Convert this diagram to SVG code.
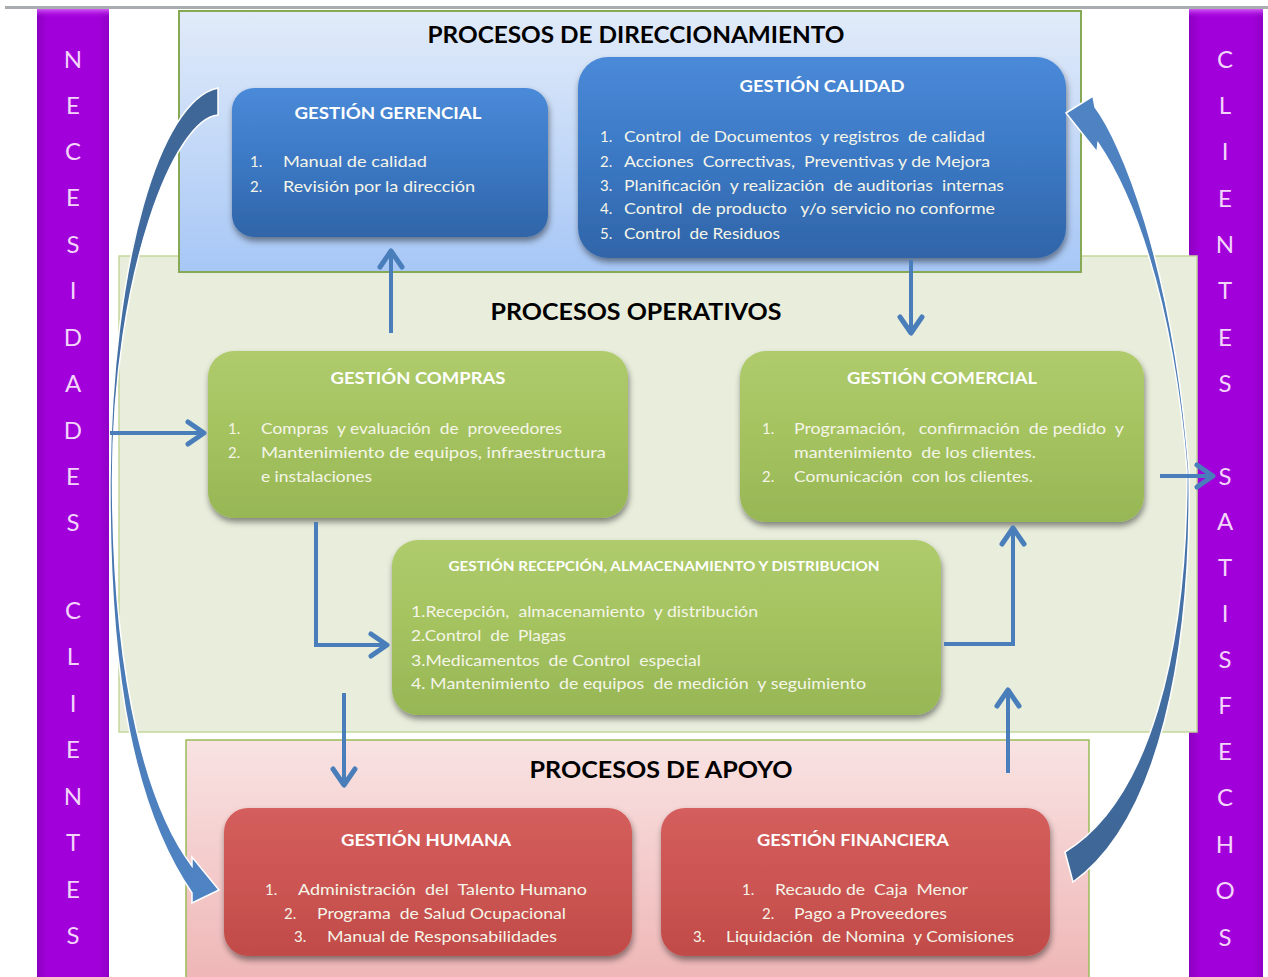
<svg xmlns="http://www.w3.org/2000/svg" width="1268" height="977" viewBox="0 0 1268 977">
<defs>
  <linearGradient id="gDir" x1="0" y1="0" x2="0" y2="1"><stop offset="0" stop-color="#e1ebf9"/><stop offset="1" stop-color="#a7c7f6"/></linearGradient>
  <linearGradient id="gApo" x1="0" y1="0" x2="0" y2="1"><stop offset="0" stop-color="#f9e3e3"/><stop offset="1" stop-color="#efb6b6"/></linearGradient>
  <linearGradient id="gBlue" x1="0" y1="0" x2="0" y2="1"><stop offset="0" stop-color="#4a8ad8"/><stop offset="0.5" stop-color="#3b78c4"/><stop offset="1" stop-color="#3065a8"/></linearGradient>
  <linearGradient id="gGreen" x1="0" y1="0" x2="0" y2="1"><stop offset="0" stop-color="#afcb6c"/><stop offset="0.5" stop-color="#a4c35f"/><stop offset="1" stop-color="#97b655"/></linearGradient>
  <linearGradient id="gRed" x1="0" y1="0" x2="0" y2="1"><stop offset="0" stop-color="#d45e5c"/><stop offset="0.5" stop-color="#cc5553"/><stop offset="1" stop-color="#c04b49"/></linearGradient>
  <linearGradient id="gPurp" x1="0" y1="0" x2="1" y2="0"><stop offset="0" stop-color="#8c00c0"/><stop offset="0.15" stop-color="#a200da"/><stop offset="0.85" stop-color="#a200da"/><stop offset="1" stop-color="#9000c6"/></linearGradient>
  <linearGradient id="gPurpTop" x1="0" y1="0" x2="0" y2="1"><stop offset="0" stop-color="#d45cf6"/><stop offset="1" stop-color="#a200da" stop-opacity="0"/></linearGradient>
  <linearGradient id="gArrR" x1="0" y1="0" x2="0" y2="1"><stop offset="0" stop-color="#4f84c4"/><stop offset="1" stop-color="#3e6696"/></linearGradient>
  <linearGradient id="gArrL" x1="0" y1="0" x2="0" y2="1"><stop offset="0" stop-color="#3e6696"/><stop offset="1" stop-color="#4f84c4"/></linearGradient>
  <filter id="sh" x="-10%" y="-10%" width="120%" height="130%"><feDropShadow dx="1" dy="4" stdDeviation="3" flood-color="#000" flood-opacity="0.45"/></filter>
  <marker id="chev" viewBox="-22 -14 26 28" markerWidth="26" markerHeight="28" refX="0" refY="0" orient="auto" markerUnits="userSpaceOnUse">
    <path d="M-16,-11 L0,0 L-16,11" fill="none" stroke="#4a7ebb" stroke-width="5" stroke-linecap="round" stroke-linejoin="round"/>
  </marker>
</defs>
<style>
  .hd{font-family:Lato,"Liberation Sans",sans-serif;font-weight:700;font-size:23px;fill:#000;text-anchor:middle}
  .tt{font-family:Lato,"Liberation Sans",sans-serif;font-weight:700;font-size:17px;fill:#fff;text-anchor:middle}
  .it{font-family:Lato,"Liberation Sans",sans-serif;font-size:15px;fill:#f5f5e8;white-space:pre}
  .lt{font-family:Lato,"Liberation Sans",sans-serif;font-size:24px;fill:#f3d4fb;text-anchor:middle}
  .cn{fill:none;stroke:#4a7ebb;stroke-width:4}
  .cv{stroke:#ffffff;stroke-width:1.5}
</style>
<rect x="0" y="0" width="1268" height="977" fill="#ffffff"/>
<rect x="5" y="6" width="1263" height="3" fill="#a9adb1"/>

<g id="bar-necesidades">
  <rect x="37" y="9" width="72" height="968" fill="url(#gPurp)"/>
  <rect x="37" y="9" width="72" height="9" fill="url(#gPurpTop)"/>
  <text class="lt" x="73" y="68">N</text><text class="lt" x="73" y="114">E</text><text class="lt" x="73" y="160">C</text><text class="lt" x="73" y="206">E</text><text class="lt" x="73" y="253">S</text><text class="lt" x="73" y="299">I</text><text class="lt" x="73" y="346">D</text><text class="lt" x="73" y="392">A</text><text class="lt" x="73" y="439">D</text><text class="lt" x="73" y="485">E</text><text class="lt" x="73" y="531">S</text>
  <text class="lt" x="73" y="619">C</text><text class="lt" x="73" y="665">L</text><text class="lt" x="73" y="712">I</text><text class="lt" x="73" y="758">E</text><text class="lt" x="73" y="805">N</text><text class="lt" x="73" y="851">T</text><text class="lt" x="73" y="898">E</text><text class="lt" x="73" y="944">S</text>
</g>
<g id="bar-clientes">
  <rect x="1189" y="9" width="74" height="968" fill="url(#gPurp)"/>
  <rect x="1189" y="9" width="74" height="9" fill="url(#gPurpTop)"/>
  <text class="lt" x="1225" y="68">C</text><text class="lt" x="1225" y="114">L</text><text class="lt" x="1225" y="160">I</text><text class="lt" x="1225" y="207">E</text><text class="lt" x="1225" y="253">N</text><text class="lt" x="1225" y="299">T</text><text class="lt" x="1225" y="346">E</text><text class="lt" x="1225" y="392">S</text>
  <text class="lt" x="1225" y="485">S</text><text class="lt" x="1225" y="530">A</text><text class="lt" x="1225" y="576">T</text><text class="lt" x="1225" y="622">I</text><text class="lt" x="1225" y="668">S</text><text class="lt" x="1225" y="714">F</text><text class="lt" x="1225" y="760">E</text><text class="lt" x="1225" y="806">C</text><text class="lt" x="1225" y="853">H</text><text class="lt" x="1225" y="899">O</text><text class="lt" x="1225" y="946">S</text>
</g>

<g id="procesos-operativos">
  <rect x="119" y="256" width="1078" height="476" fill="#e9eedc" stroke="#c3d69b" stroke-width="1.5"/>
  <text class="hd" x="636" y="320" textLength="291" lengthAdjust="spacingAndGlyphs">PROCESOS  OPERATIVOS</text>
</g>
<g id="procesos-direccionamiento">
  <rect x="179" y="11" width="902" height="261" fill="url(#gDir)" stroke="#87a854" stroke-width="2"/>
  <text class="hd" x="636" y="43" textLength="417" lengthAdjust="spacingAndGlyphs">PROCESOS DE DIRECCIONAMIENTO</text>
</g>
<g id="procesos-apoyo">
  <rect x="186" y="740" width="903" height="240" fill="url(#gApo)" stroke="#9bbb59" stroke-width="1.5"/>
  <text class="hd" x="661" y="778" textLength="263" lengthAdjust="spacingAndGlyphs">PROCESOS  DE APOYO</text>
</g>

<g id="gestion-gerencial">
  <rect x="232" y="88" width="316" height="149" rx="22" fill="url(#gBlue)" filter="url(#sh)"/>
  <text class="tt" x="388" y="119" textLength="187" lengthAdjust="spacingAndGlyphs">GESTIÓN  GERENCIAL</text>
  <text class="it" x="250" y="167">1.</text><text class="it" x="283" y="167" textLength="144" lengthAdjust="spacingAndGlyphs">Manual de calidad</text>
  <text class="it" x="250" y="192">2.</text><text class="it" x="283" y="192" textLength="192" lengthAdjust="spacingAndGlyphs">Revisión por la dirección</text>
</g>
<g id="gestion-calidad">
  <rect x="578" y="57" width="488" height="201" rx="30" fill="url(#gBlue)" filter="url(#sh)"/>
  <text class="tt" x="822" y="92" textLength="165" lengthAdjust="spacingAndGlyphs">GESTIÓN  CALIDAD</text>
  <text class="it" x="600" y="142">1.</text><text class="it" x="624" y="142" textLength="361" lengthAdjust="spacingAndGlyphs">Control  de Documentos  y registros  de calidad</text>
  <text class="it" x="600" y="167">2.</text><text class="it" x="624" y="167" textLength="366" lengthAdjust="spacingAndGlyphs">Acciones  Correctivas,  Preventivas y de Mejora</text>
  <text class="it" x="600" y="191">3.</text><text class="it" x="624" y="191" textLength="380" lengthAdjust="spacingAndGlyphs">Planificación  y realización  de auditorias  internas</text>
  <text class="it" x="600" y="214">4.</text><text class="it" x="624" y="214" textLength="371" lengthAdjust="spacingAndGlyphs">Control  de producto   y/o servicio no conforme</text>
  <text class="it" x="600" y="239">5.</text><text class="it" x="624" y="239" textLength="156" lengthAdjust="spacingAndGlyphs">Control  de Residuos</text>
</g>
<g id="gestion-compras">
  <rect x="208" y="351" width="420" height="167" rx="26" fill="url(#gGreen)" filter="url(#sh)"/>
  <text class="tt" x="418" y="384" textLength="175" lengthAdjust="spacingAndGlyphs">GESTIÓN  COMPRAS</text>
  <text class="it" x="228" y="434">1.</text><text class="it" x="261" y="434" textLength="301" lengthAdjust="spacingAndGlyphs">Compras  y evaluación  de  proveedores</text>
  <text class="it" x="228" y="458">2.</text><text class="it" x="261" y="458" textLength="345" lengthAdjust="spacingAndGlyphs">Mantenimiento de equipos, infraestructura</text>
  <text class="it" x="261" y="482" textLength="111" lengthAdjust="spacingAndGlyphs">e instalaciones</text>
</g>
<g id="gestion-comercial">
  <rect x="740" y="351" width="404" height="171" rx="26" fill="url(#gGreen)" filter="url(#sh)"/>
  <text class="tt" x="942" y="384" textLength="190" lengthAdjust="spacingAndGlyphs">GESTIÓN  COMERCIAL</text>
  <text class="it" x="762" y="434">1.</text><text class="it" x="794" y="434" textLength="330" lengthAdjust="spacingAndGlyphs">Programación,   confirmación  de pedido  y</text>
  <text class="it" x="794" y="458" textLength="242" lengthAdjust="spacingAndGlyphs">mantenimiento  de los clientes.</text>
  <text class="it" x="762" y="482">2.</text><text class="it" x="794" y="482" textLength="239" lengthAdjust="spacingAndGlyphs">Comunicación  con los clientes.</text>
</g>
<g id="gestion-recepcion">
  <rect x="392" y="540" width="549" height="175" rx="26" fill="url(#gGreen)" filter="url(#sh)"/>
  <text class="tt" x="664" y="571" style="font-size:14px" textLength="431" lengthAdjust="spacingAndGlyphs">GESTIÓN  RECEPCIÓN,  ALMACENAMIENTO   Y DISTRIBUCION</text>
  <text class="it" x="411" y="617" textLength="347" lengthAdjust="spacingAndGlyphs">1.Recepción,  almacenamiento  y distribución</text>
  <text class="it" x="411" y="641" textLength="155" lengthAdjust="spacingAndGlyphs">2.Control  de  Plagas</text>
  <text class="it" x="411" y="666" textLength="290" lengthAdjust="spacingAndGlyphs">3.Medicamentos  de Control  especial</text>
  <text class="it" x="411" y="689" textLength="455" lengthAdjust="spacingAndGlyphs">4. Mantenimiento  de equipos  de medición  y seguimiento</text>
</g>
<g id="gestion-humana">
  <rect x="224" y="808" width="408" height="148" rx="24" fill="url(#gRed)" filter="url(#sh)"/>
  <text class="tt" x="426" y="846" textLength="170" lengthAdjust="spacingAndGlyphs">GESTIÓN  HUMANA</text>
  <text class="it" x="265" y="895">1.</text><text class="it" x="298" y="895" textLength="289" lengthAdjust="spacingAndGlyphs">Administración  del  Talento Humano</text>
  <text class="it" x="284" y="919">2.</text><text class="it" x="317" y="919" textLength="249" lengthAdjust="spacingAndGlyphs">Programa  de Salud Ocupacional</text>
  <text class="it" x="294" y="942">3.</text><text class="it" x="327" y="942" textLength="230" lengthAdjust="spacingAndGlyphs">Manual de Responsabilidades</text>
</g>
<g id="gestion-financiera">
  <rect x="661" y="808" width="389" height="148" rx="24" fill="url(#gRed)" filter="url(#sh)"/>
  <text class="tt" x="853" y="846" textLength="192" lengthAdjust="spacingAndGlyphs">GESTIÓN  FINANCIERA</text>
  <text class="it" x="742" y="895">1.</text><text class="it" x="775" y="895" textLength="193" lengthAdjust="spacingAndGlyphs">Recaudo de  Caja  Menor</text>
  <text class="it" x="762" y="919">2.</text><text class="it" x="794" y="919" textLength="153" lengthAdjust="spacingAndGlyphs">Pago a Proveedores</text>
  <text class="it" x="693" y="942">3.</text><text class="it" x="726" y="942" textLength="288" lengthAdjust="spacingAndGlyphs">Liquidación  de Nomina  y Comisiones</text>
</g>

<g id="connectors">
  <path class="cv" fill="url(#gArrL)" d="M218,88 C160,100 112,260 110,480 C109,680 135,810 192,893 L192,903 L219,890 L192,857 L192,866 C150,810 113,690 112.5,480 C113,270 175,118 218,115 Z"/>
  <path class="cv" fill="url(#gArrR)" d="M1066,113 L1093,96 L1095,107 C1120,140 1172,260 1189,470 C1192,650 1160,820 1073,882 L1065,852 C1150,800 1187,650 1187,470 C1172,290 1130,190 1098,143 L1097,152 Z"/>
  <path class="cn" d="M110,433 L204,433" marker-end="url(#chev)"/>
  <path class="cn" d="M391,333 L391,251" marker-end="url(#chev)"/>
  <path class="cn" d="M911,260 L911,333" marker-end="url(#chev)"/>
  <path class="cn" d="M316,522 L316,645 L387,645" marker-end="url(#chev)"/>
  <path class="cn" d="M944,644 L1013,644 L1013,528" marker-end="url(#chev)"/>
  <path class="cn" d="M1008,773 L1008,690" marker-end="url(#chev)"/>
  <path class="cn" d="M344,693 L344,785" marker-end="url(#chev)"/>
  <path class="cn" d="M1160,476 L1213,476" marker-end="url(#chev)"/>
</g>
</svg>
